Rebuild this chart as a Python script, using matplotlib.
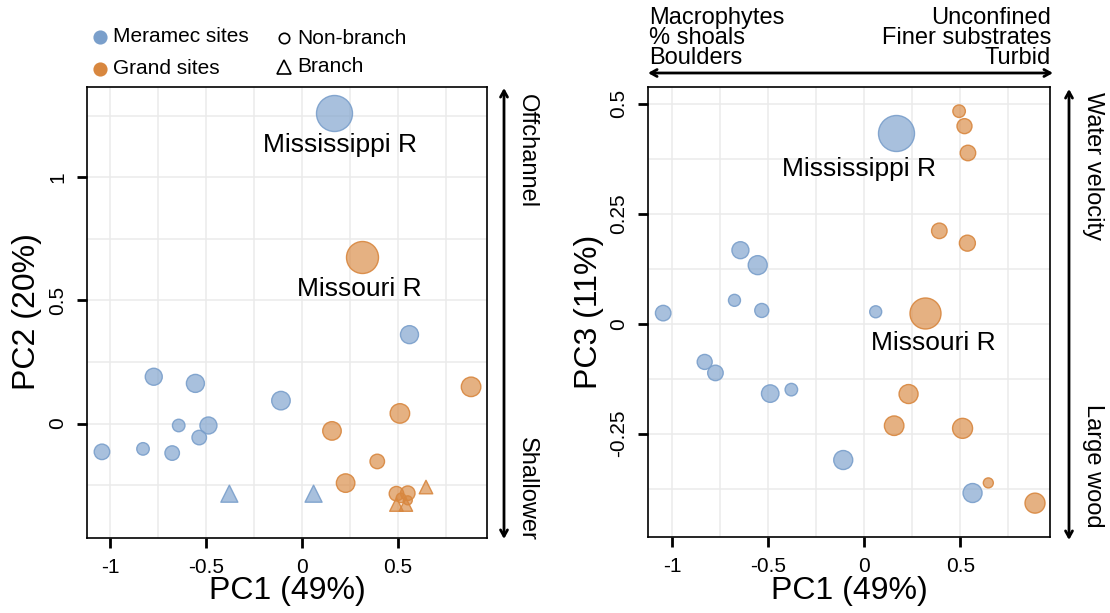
import matplotlib.pyplot as plt
from matplotlib.colors import to_rgba
from matplotlib.lines import Line2D

plt.rcParams['font.family'] = ['Liberation Sans', 'DejaVu Sans']
plt.rcParams['axes.unicode_minus'] = False

BLUE = '#7A9FCB'
ORANGE = '#D8873F'

# ---- PC1 / PC2 ----
mer_pc1 = [0.559, -0.774, -0.557, -0.111, -0.644, -0.489, -0.537, -1.044, -0.830, -0.678]
mer_pc2 = [0.361, 0.190, 0.163, 0.093, -0.008, -0.008, -0.057, -0.115, -0.103, -0.120]
mer_size = [18, 17, 18, 18.5, 12.5, 17, 14.5, 15.5, 12.5, 14.5]
mer_br_pc1 = [-0.380, 0.059]
mer_br_pc2 = [-0.285, -0.285]

gr_pc1 = [0.880, 0.509, 0.155, 0.391, 0.226, 0.491, 0.550, 0.515, 0.550]
gr_pc2 = [0.149, 0.041, -0.030, -0.154, -0.242, -0.285, -0.283, -0.302, -0.312]
gr_size = [19.5, 19.5, 18.5, 14.5, 18.5, 14.5, 14.5, 9.5, 9]
gr_br_pc1 = [0.645, 0.491, 0.540]
gr_br_pc2 = [-0.258, -0.329, -0.329]

# main stems: Mississippi (Meramec side), Missouri (Grand side)
miss_pc12 = (0.164, 1.260)
mo_pc12 = (0.309, 0.675)
miss_size, mo_size = 36, 32

# ---- PC1 / PC3 ----
mer3_pc1 = [-1.047, -0.676, -0.534, -0.645, -0.555, 0.059, -0.831, -0.775,
            -0.490, -0.380, -0.110, 0.563]
mer3_pc3 = [0.024, 0.053, 0.030, 0.167, 0.133, 0.027, -0.087, -0.112,
            -0.159, -0.150, -0.310, -0.385]
mer3_size = [15.5, 12, 14, 17, 19, 12, 15, 15.5, 17.5, 12.5, 19, 19]

gr3_pc1 = [0.390, 0.536, 0.230, 0.155, 0.511, 0.645, 0.888, 0.493, 0.521, 0.539]
gr3_pc3 = [0.211, 0.183, -0.160, -0.232, -0.238, -0.362, -0.408, 0.483, 0.449, 0.388]
gr3_size = [15.5, 16, 19, 19.5, 20, 10, 20, 12.5, 15, 15.5]

miss_pc13 = (0.164, 0.434)
mo_pc13 = (0.314, 0.025)
miss3_size, mo3_size = 36, 31

x_ticks = [-1, -0.5, 0, 0.5]
x_labels = ['-1', '-0.5', '0', '0.5']
x_minor = [-0.75, -0.25, 0.25, 0.75]


def area(d):
    # marker diameter in pixels -> scatter area in points^2
    return [(0.72 * v) ** 2 for v in d]


def face(c):
    return to_rgba(c, 0.65)


def edge(c):
    return to_rgba(c, 0.9)


def bubbles(ax, x, y, d, c, marker='o'):
    ax.scatter(x, y, s=area(d), marker=marker, facecolor=face(c),
               edgecolor=edge(c), linewidth=1.0, zorder=3)


def style(ax, yt, ylab, ymin, xlim, ylim):
    ax.set_xlim(*xlim)
    ax.set_ylim(*ylim)
    ax.set_xticks(x_ticks)
    ax.set_xticklabels(x_labels, fontsize=15)
    ax.set_xticks(x_minor, minor=True)
    ax.set_yticks(yt)
    ax.set_yticklabels(ylab, fontsize=15, rotation=90, va='center')
    ax.set_yticks(ymin, minor=True)
    ax.grid(True, which='both', color='#EBEBEB', linewidth=1.1)
    ax.set_axisbelow(True)
    ax.tick_params(which='major', length=7.2, width=2.0, color='black', pad=7)
    ax.tick_params(which='minor', length=0)
    for s in ax.spines.values():
        s.set_linewidth(1.2)
        s.set_color('black')


fig = plt.figure(figsize=(11.1, 6.13), dpi=100)
W, H = 1110, 613


def fx(px):
    return px / W


def fy(py):
    return 1 - py / H


ax1 = fig.add_axes([fx(87), fy(538), fx(400), 451 / H])
ax2 = fig.add_axes([fx(648), fy(537), fx(402), 450 / H])

# left panel
bubbles(ax1, mer_pc1, mer_pc2, mer_size, BLUE)
bubbles(ax1, mer_br_pc1, mer_br_pc2, [17, 17], BLUE, marker='^')
bubbles(ax1, gr_pc1, gr_pc2, gr_size, ORANGE)
bubbles(ax1, gr_br_pc1, gr_br_pc2, [13.5, 13.5, 13.5], ORANGE, marker='^')
bubbles(ax1, [miss_pc12[0]], [miss_pc12[1]], [miss_size], BLUE)
bubbles(ax1, [mo_pc12[0]], [mo_pc12[1]], [mo_size], ORANGE)
ax1.text(miss_pc12[0] + 0.035, miss_pc12[1] - 0.13, 'Mississippi R', fontsize=19,
         ha='center', va='center', zorder=4)
ax1.text(mo_pc12[0] - 0.012, mo_pc12[1] - 0.127, 'Missouri R', fontsize=19,
         ha='center', va='center', zorder=4)
style(ax1, [0, 0.5, 1], ['0', '0.5', '1'], [-0.25, 0.25, 0.75, 1.25],
      (-1.122, 0.963), (-0.465, 1.367))

# right panel
bubbles(ax2, mer3_pc1, mer3_pc3, mer3_size, BLUE)
bubbles(ax2, gr3_pc1, gr3_pc3, gr3_size, ORANGE)
bubbles(ax2, [miss_pc13[0]], [miss_pc13[1]], [miss3_size], BLUE)
bubbles(ax2, [mo_pc13[0]], [mo_pc13[1]], [mo3_size], ORANGE)
ax2.text(miss_pc13[0] - 0.19, miss_pc13[1] - 0.083, 'Mississippi R', fontsize=19,
         ha='center', va='center', zorder=4)
ax2.text(mo_pc13[0] + 0.045, mo_pc13[1] - 0.068, 'Missouri R', fontsize=19,
         ha='center', va='center', zorder=4)
style(ax2, [-0.25, 0, 0.25, 0.5], ['-0.25', '0', '0.25', '0.5'],
      [-0.375, -0.125, 0.125, 0.375], (-1.126, 0.966), (-0.485, 0.538))

# axis titles
fig.text(fx(287), fy(591), 'PC1 (49%)', fontsize=23, ha='center', va='center')
fig.text(fx(849), fy(591), 'PC1 (49%)', fontsize=23, ha='center', va='center')
fig.text(fx(27), fy(312), 'PC2 (20%)', fontsize=23, ha='center', va='center', rotation=90)
fig.text(fx(589), fy(312), 'PC3 (11%)', fontsize=23, ha='center', va='center', rotation=90)

# interpretation arrows
arrow = dict(arrowstyle='<->,head_length=0.45,head_width=0.25', lw=2.0, color='black',
             shrinkA=0, shrinkB=0)
fig.add_artist(plt.Annotation('', xy=(fx(504), fy(539)), xytext=(fx(504), fy(88)),
                              xycoords='figure fraction', arrowprops=arrow))
fig.add_artist(plt.Annotation('', xy=(fx(1069), fy(540)), xytext=(fx(1069), fy(89)),
                              xycoords='figure fraction', arrowprops=arrow))
fig.add_artist(plt.Annotation('', xy=(fx(1053), fy(73)), xytext=(fx(648), fy(73)),
                              xycoords='figure fraction', arrowprops=arrow))

fig.text(fx(527), fy(94), 'Offchannel', fontsize=17, rotation=270, ha='center', va='top')
fig.text(fx(527), fy(541), 'Shallower', fontsize=17, rotation=270, ha='center', va='bottom')
fig.text(fx(1093), fy(92), 'Water velocity', fontsize=17, rotation=270, ha='center', va='top')
fig.text(fx(1093), fy(528), 'Large wood', fontsize=17, rotation=270, ha='center', va='bottom')

fig.text(fx(649), fy(7), 'Macrophytes\n% shoals\nBoulders', fontsize=17,
         ha='left', va='top', linespacing=0.89)
fig.text(fx(1051), fy(7), 'Unconfined\nFiner substrates\nTurbid', fontsize=17,
         ha='right', va='top', linespacing=0.89, multialignment='right')

# legend: colour = river, shape = site type
leg = [
    (100, 37, 'o', BLUE, BLUE, 9, 'Meramec sites'),
    (100, 69, 'o', ORANGE, ORANGE, 9, 'Grand sites'),
    (284, 38, 'o', 'none', 'black', 7.5, 'Non-branch'),
    (284, 67, '^', 'none', 'black', 10, 'Branch'),
]
for x, y, m, fc, ec, ms, lab in leg:
    fig.add_artist(Line2D([fx(x)], [fy(y)], marker=m, markersize=ms, markerfacecolor=fc,
                          markeredgecolor=ec, markeredgewidth=1.2, linestyle='none',
                          transform=fig.transFigure))
    fig.text(fx(x + 13), fy(y), lab, fontsize=15, ha='left', va='center')

fig.savefig('out.png', dpi=100)
